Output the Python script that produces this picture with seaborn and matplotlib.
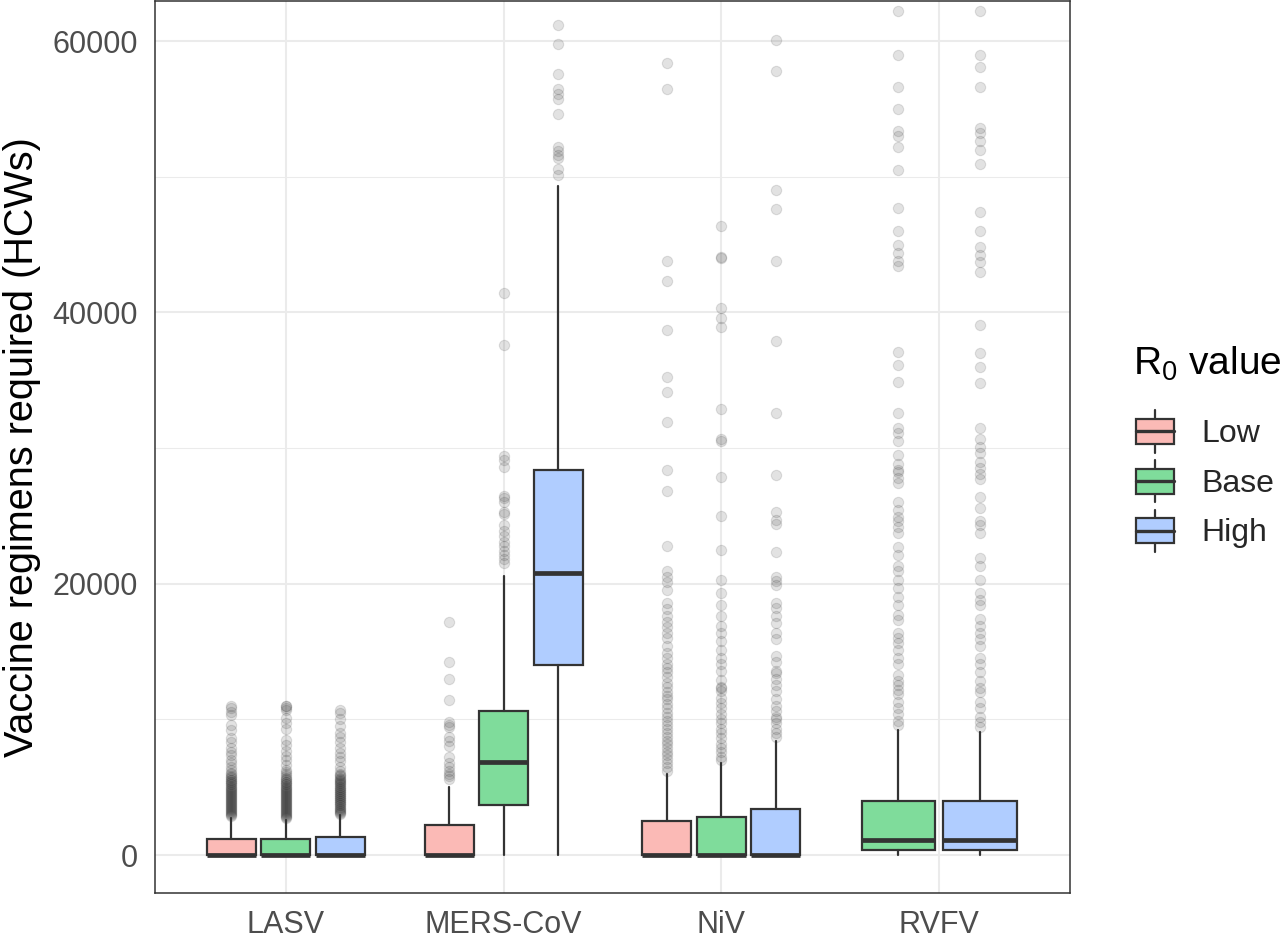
import matplotlib
matplotlib.use("Agg")
import matplotlib.pyplot as plt
import pandas as pd
import seaborn as sns
from matplotlib.ticker import MultipleLocator, FixedLocator
from matplotlib.legend_handler import HandlerBase
from matplotlib.patches import Rectangle, Patch
from matplotlib.lines import Line2D

# ---- data (box summary stats + outliers) ----
viruses = ["LASV", "MERS-CoV", "NiV", "RVFV"]
r0_levels = ["Low", "Base", "High"]

box_virus = ["LASV", "LASV", "LASV", "MERS-CoV", "MERS-CoV", "MERS-CoV",
             "NiV", "NiV", "NiV", "RVFV", "RVFV"]
box_level = ["Low", "Base", "High", "Low", "Base", "High",
             "Low", "Base", "High", "Base", "High"]
q1 = [0, 0, 0, 0, 3700, 14000, 0, 0, 0, 350, 350]
median = [0, 0, 0, 0, 6850, 20800, 0, 0, 0, 1100, 1100]
q3 = [1180, 1150, 1330, 2200, 10600, 28400, 2500, 2800, 3400, 3980, 3980]
whisker_low = [0, 0, 0, 0, 0, 0, 0, 0, 0, 30, 30]
whisker_high = [2730, 2580, 2950, 5000, 20600, 49300, 5970, 6800, 8400, 9200, 9100]

lasv_low_out = [2850, 2950, 3000, 3100, 3150, 3250, 3300, 3400, 3450, 3550, 3600, 3700,
                3750, 3850, 3900, 4000, 4050, 4150, 4200, 4300, 4350, 4450, 4500, 4600,
                4650, 4750, 4800, 4900, 4950, 5050, 5100, 5200, 5250, 5350, 5400, 5500,
                5550, 5650, 5750, 5850, 5950, 6050, 6300, 6500, 6800, 7000, 7400, 7600,
                7900, 8300, 8600, 9200, 9600, 10300, 10550, 10800, 10950]
lasv_base_out = [2700, 2800, 2850, 2950, 3000, 3100, 3150, 3250, 3300, 3400, 3450, 3550,
                 3600, 3700, 3750, 3850, 3900, 4000, 4050, 4150, 4200, 4300, 4350, 4450,
                 4500, 4600, 4650, 4750, 4800, 4900, 4950, 5050, 5100, 5200, 5250, 5350,
                 5400, 5500, 5600, 5700, 5800, 5950, 6100, 6300, 6600, 7000, 7300, 7700,
                 8100, 8500, 9300, 9700, 10100, 10700, 10850, 10950, 11000]
lasv_high_out = [3050, 3100, 3200, 3250, 3350, 3400, 3500, 3550, 3650, 3700, 3800, 3850,
                 3950, 4000, 4100, 4150, 4250, 4300, 4400, 4450, 4550, 4600, 4700, 4750,
                 4850, 4900, 5000, 5050, 5150, 5200, 5300, 5350, 5450, 5500, 5600, 5700,
                 5800, 5900, 6000, 6200, 6500, 6900, 7200, 7500, 7900, 8300, 8700, 9000,
                 9500, 10000, 10500, 10700]
mers_low_out = [17200, 14200, 12950, 11450, 9800, 9600, 9400, 8700, 8400, 8000, 7200,
                6800, 6500, 6200, 6000, 5800, 5600]
mers_base_out = [41400, 37600, 29400, 29100, 28600, 26500, 26300, 26000, 25300, 25100,
                 24300, 23900, 23500, 23100, 22800, 22400, 22100, 21800, 21500]
mers_high_out = [61200, 59800, 57600, 56500, 56100, 55700, 54600, 52200, 51900, 51600,
                 51400, 50600, 50100]
niv_low_out = [58400, 56500, 43800, 42300, 38700, 35200, 34100, 31900, 28400, 26800,
               22800, 20900, 20500, 20100, 19500, 18600, 18100, 17600, 17200, 16800,
               16400, 16000, 15400, 14900, 14500, 14100, 13800, 13500, 13100, 12700,
               12400, 12000, 11700, 11500, 11100, 10800, 10500, 10200, 9900, 9600, 9300,
               9000, 8700, 8400, 8200, 7900, 7600, 7400, 7100, 6800, 6500, 6200]
niv_base_out = [46400, 44100, 44000, 40300, 39600, 38900, 32900, 30700, 30500, 27900,
                25000, 22500, 20300, 19300, 18400, 17600, 16900, 16400, 15800, 15100,
                14500, 14100, 13600, 12900, 12400, 12300, 12100, 11600, 11200, 10800,
                10400, 10000, 9700, 9300, 9000, 8600, 8200, 7900, 7600, 7200, 7000]
niv_high_out = [60100, 57800, 49000, 47600, 43800, 37900, 32600, 28000, 25300, 24700,
                24400, 22300, 20500, 20200, 19900, 18600, 18200, 17600, 17100, 16400,
                15900, 14700, 14200, 13600, 13400, 13000, 12500, 12100, 11500, 11000,
                10600, 10200, 10000, 9700, 9300, 9000, 8700]
rvfv_base_out = [62200, 59000, 56600, 55000, 53400, 53000, 52200, 50500, 47700, 46000,
                 45000, 44400, 43800, 43400, 37100, 36100, 34900, 32600, 31500, 31100,
                 30500, 29500, 28800, 28400, 28200, 27800, 27400, 26000, 25400, 24900,
                 24600, 24200, 23700, 22700, 22100, 21300, 20900, 20300, 19700, 19000,
                 18400, 17700, 17300, 16400, 16000, 15600, 15100, 14500, 14100, 13300,
                 12800, 12500, 12200, 11900, 11300, 10800, 10400, 9900, 9600]
rvfv_high_out = [62200, 59000, 58100, 56600, 53600, 53200, 52600, 52000, 50900, 47400,
                 46000, 44800, 44200, 43700, 43000, 39100, 37000, 36000, 34800, 31500,
                 30700, 30100, 29600, 29000, 28500, 28100, 27700, 26400, 25600, 24600,
                 24300, 23700, 21900, 21300, 20300, 19300, 18800, 18400, 17400, 16900,
                 16400, 15900, 15400, 14500, 14100, 13500, 12800, 12300, 12000, 11300,
                 10800, 10200, 9800, 9400]
outliers = [lasv_low_out, lasv_base_out, lasv_high_out, mers_low_out, mers_base_out,
            mers_high_out, niv_low_out, niv_base_out, niv_high_out, rvfv_base_out,
            rvfv_high_out]

fill = {"Low": "#FBBAB6", "Base": "#7FDC9B", "High": "#B0CDFF"}
edge = "#333333"

# ---- style ----
sns.set_theme(style="whitegrid")
plt.rcParams["font.family"] = ["Liberation Sans", "DejaVu Sans"]
plt.rcParams["mathtext.fontset"] = "custom"
plt.rcParams["mathtext.rm"] = "Liberation Sans"
plt.rcParams["mathtext.it"] = "Liberation Sans"

fig = plt.figure(figsize=(12.8, 9.39), dpi=100)
ax = fig.add_axes([155 / 1280, 1 - 893 / 939, 915 / 1280, 892 / 939])
ax.set_facecolor("white")

# dodge like ggplot: boxes of one virus share 0.75 of the slot
positions, widths = [], []
for v, lev in zip(box_virus, box_level):
    present = [l for l, vv in zip(box_level, box_virus) if vv == v]
    n = len(present)
    j = present.index(lev)
    positions.append(viruses.index(v) - 0.375 + (j + 0.5) * 0.75 / n)
    widths.append(0.9 * 0.75 / n)

stats = []
for i in range(len(box_virus)):
    stats.append(dict(q1=q1[i], med=median[i], q3=q3[i],
                      whislo=whisker_low[i], whishi=whisker_high[i], fliers=[]))

# outliers through seaborn
rows = []
for p, vals in zip(positions, outliers):
    for val in vals:
        rows.append((p, val))
out_df = pd.DataFrame(rows, columns=["pos", "value"])
sns.scatterplot(data=out_df, x="pos", y="value", ax=ax, color=edge, alpha=0.14,
                s=55, edgecolor=edge, linewidth=0.8, legend=False, zorder=2)

bp = ax.bxp(stats, positions=positions, widths=widths, patch_artist=True,
            showfliers=False, showcaps=False, manage_ticks=False,
            boxprops=dict(edgecolor=edge, linewidth=1.6),
            whiskerprops=dict(color=edge, linewidth=1.6),
            medianprops=dict(color=edge, linewidth=3.4, solid_capstyle="butt"),
            zorder=3)
for patch, lev in zip(bp["boxes"], box_level):
    patch.set_facecolor(fill[lev])

# axes, grid
ax.set_xlim(-0.6, 3.6)
ax.set_ylim(-2800, 62950)
ax.xaxis.set_major_locator(FixedLocator(range(len(viruses))))
ax.set_xticklabels(viruses)
ax.yaxis.set_major_locator(MultipleLocator(20000))
ax.yaxis.set_minor_locator(MultipleLocator(10000))
ax.yaxis.set_major_formatter(matplotlib.ticker.FuncFormatter(lambda v, p: f"{int(v)}"))
ax.set_axisbelow(True)
ax.grid(which="major", color="#EBEBEB", linewidth=1.5)
ax.grid(which="minor", axis="y", color="#EBEBEB", linewidth=0.75)
ax.grid(which="minor", axis="x", visible=False)
for s in ax.spines.values():
    s.set_visible(True)
    s.set_color(edge)
    s.set_linewidth(1.1)
ax.tick_params(which="major", length=6.5, width=1.4, color=edge, labelsize=22,
               labelcolor="#4D4D4D", pad=6)
ax.tick_params(which="minor", length=0)
ax.set_xlabel("")
ax.set_ylabel("Vaccine regimens required (HCWs)", fontsize=28.5, color="black",
              labelpad=8)


# legend keys drawn like ggplot boxplot glyphs (sizes in points around the row centre)
class BoxKey(HandlerBase):
    def create_artists(self, legend, orig_handle, xdescent, ydescent, width, height,
                       fontsize, trans):
        x0 = -xdescent
        yc = -ydescent + height / 2
        xm = x0 + width / 2
        w1 = Line2D([xm, xm], [yc - 15.2, yc - 9.0], color=edge, lw=1.6, transform=trans)
        w2 = Line2D([xm, xm], [yc + 9.0, yc + 15.2], color=edge, lw=1.6, transform=trans)
        box = Rectangle((x0, yc - 9.0), width, 18.0, facecolor=orig_handle.get_facecolor(),
                        edgecolor=edge, linewidth=1.6, transform=trans)
        med = Line2D([x0, x0 + width], [yc, yc], color=edge, lw=2.4, transform=trans)
        return [w1, w2, box, med]


fig.text(1133 / 1280, 1 - 375 / 939, r"R$_0$ value", fontsize=28, color="black",
         ha="left", va="baseline")
handles = [Patch(facecolor=fill[l]) for l in r0_levels]
leg = fig.legend(handles, r0_levels, handler_map={Patch: BoxKey()},
                 loc="upper left", bbox_to_anchor=(1136 / 1280, 1 - 413 / 939),
                 frameon=False, fontsize=23, borderpad=0,
                 handlelength=1.2, handleheight=1.4, labelspacing=0.4,
                 handletextpad=0.85, borderaxespad=0)

fig.savefig("out.png", dpi=100)
